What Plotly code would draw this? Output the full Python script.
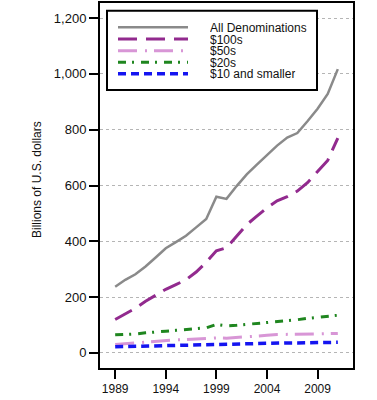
import plotly.graph_objects as go

# ---------------- data ----------------
years = list(range(1989, 2012))
all_denoms = [237, 262, 282, 310, 342, 375, 397, 420, 450, 480, 560, 552, 598, 640, 675, 710, 743, 772, 788, 830, 875, 928, 1017]
hundreds = [120, 140, 160, 185, 207, 228, 245, 262, 290, 325, 366, 377, 418, 460, 490, 520, 545, 560, 580, 610, 650, 690, 770]
fifties = [30, 33, 36, 39, 42, 45, 47, 48, 50, 51, 54, 53, 55, 58, 60, 63, 66, 66, 66, 67, 68, 69, 70]
twenties = [65, 66, 68, 72, 76, 78, 81, 84, 86, 90, 102, 97, 99, 102, 105, 108, 112, 116, 119, 124, 127, 131, 135]
tens = [22, 23, 24, 25, 26, 27, 28, 28, 29, 30, 32, 31, 32, 33, 34, 35, 35, 36, 36, 37, 37, 38, 38]

series_names = ["All Denominations", "$100s", "$50s", "$20s", "$10 and smaller"]
series_values = [all_denoms, hundreds, fifties, twenties, tens]

y_tickvals = [0, 200, 400, 600, 800, 1000, 1200]
y_ticktext = ["0", "200", "400", "600", "800", "1,000", "1,200"]
x_tickvals = [1989, 1994, 1999, 2004, 2009]
x_ticktext = ["1989", "1994", "1999", "2004", "2009"]
y_title = "Billions of U.S. dollars"

# ---------------- styles ----------------
colors = ["#8a8a8a", "#922a8e", "#d896d6", "#1f861f", "#1414f0"]
widths = [2.5, 3, 3, 3, 3.5]
dashes = ["solid", "19px,9px", "19px,8px,2px,7px", "8px,6px,2px,7px", "8px,5px"]

FONT = "Liberation Sans, Arial, Helvetica, sans-serif"
W, H = 377, 400
L, R, T, B = 100, 24, 3, 32
PW, PH = W - L - R, H - T - B


def px_x(px):
    return (px - L) / PW


def px_y(py):
    return (H - B - py) / PH


fig = go.Figure()
for name, vals, c, w, d in zip(series_names, series_values, colors, widths, dashes):
    fig.add_trace(go.Scatter(x=years, y=vals, mode="lines", name=name,
                             line=dict(color=c, width=w, dash=d),
                             showlegend=False))

# manual legend (compact)
shapes = [dict(type="rect", xref="paper", yref="paper",
               x0=px_x(107), x1=px_x(317), y0=px_y(90), y1=px_y(10.7),
               line=dict(color="black", width=2), fillcolor="white", layer="above")]
annotations = []
rows = [27.3, 39, 50.7, 62.2, 73.7]
for name, c, w, d, ry in zip(series_names, colors, widths, dashes, rows):
    shapes.append(dict(type="line", xref="paper", yref="paper",
                       x0=px_x(118), x1=px_x(188), y0=px_y(ry), y1=px_y(ry),
                       line=dict(color=c, width=w, dash=d), layer="above"))
    annotations.append(dict(text=name, xref="paper", yref="paper",
                            x=px_x(208), y=px_y(ry), xanchor="left", yanchor="middle",
                            height=11, valign="middle",
                            showarrow=False, font=dict(family=FONT, size=12, color="#111")))

annotations.append(dict(text=y_title, xref="paper", yref="paper",
                        x=px_x(37), y=px_y(180), xanchor="center", yanchor="middle",
                        textangle=-90, showarrow=False,
                        font=dict(family=FONT, size=12, color="#111")))

fig.update_layout(
    width=W, height=H,
    margin=dict(l=L, r=R, t=T, b=B, autoexpand=False),
    paper_bgcolor="white", plot_bgcolor="white",
    font=dict(family=FONT, color="#111"),
    shapes=shapes, annotations=annotations,
    xaxis=dict(range=[1987.5, 2012.5], tickvals=x_tickvals, ticktext=x_ticktext,
               showgrid=False, zeroline=False,
               showline=True, linecolor="black", linewidth=2, mirror=True,
               ticks="outside", ticklen=9, tickwidth=2, tickcolor="black",
               tickfont=dict(family=FONT, size=12, color="#111")),
    yaxis=dict(range=[-54, 1254], tickvals=y_tickvals, ticktext=y_ticktext,
               showgrid=True, gridcolor="#b5b5b5", gridwidth=1, griddash="dot",
               zeroline=False,
               showline=True, linecolor="black", linewidth=2, mirror=True,
               ticks="outside", ticklen=9, tickwidth=2, tickcolor="black",
               tickfont=dict(family=FONT, size=13, color="#111")),
)

fig.write_html("out.html", config={"displayModeBar": False},
               post_script="document.body.style.margin='0';document.body.style.overflow='hidden';")
